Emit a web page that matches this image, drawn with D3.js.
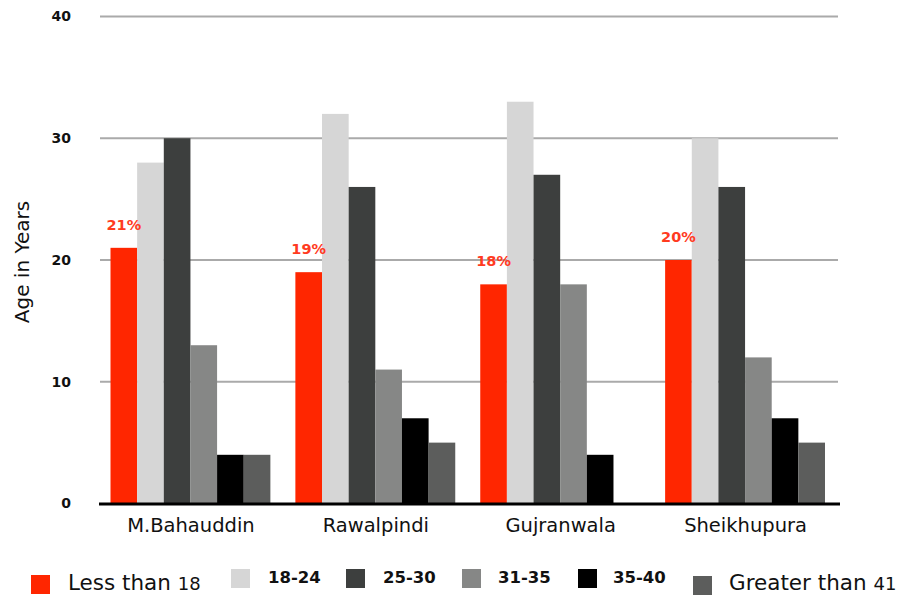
<!DOCTYPE html>
<html>
<head>
<meta charset="utf-8">
<script src="https://cdn.jsdelivr.net/npm/d3@7/dist/d3.min.js"></script>
<style>
  html, body { margin: 0; padding: 0; background: #fff; }
  svg { display: block; }
</style>
</head>
<body>
<svg id="chart" width="903" height="596"></svg>
<script>
const categories = ["M.Bahauddin", "Rawalpindi", "Gujranwala", "Sheikhupura"];
const seriesNames = ["Less than 18", "18-24", "25-30", "31-35", "35-40", "Greater than 41"];
const lessThan18 = [21, 19, 18, 20];
const age18to24 = [28, 32, 33, 30];
const age25to30 = [30, 26, 27, 26];
const age31to35 = [13, 11, 18, 12];
const age35to40 = [4, 7, 4, 7];
const greaterThan41 = [4, 5, 0, 5];
const redLabels = ["21%", "19%", "18%", "20%"];
const yTicks = [0, 10, 20, 30, 40];
const colors = ["#ff2600", "#d6d6d6", "#3d3f3e", "#868786", "#000000", "#5c5d5c"];

const seriesValues = [lessThan18, age18to24, age25to30, age31to35, age35to40, greaterThan41];

const svg = d3.select("#chart");
const plotLeft = 98.5, plotRight = 838, plotTop = 16.5, plotBottom = 503.5;

const x0 = d3.scaleBand().domain(categories).range([plotLeft, plotRight]).padding(0);
const x1 = d3.scaleBand().domain(seriesNames).range([12, x0.bandwidth() - 13]).padding(0);
const y = d3.scaleLinear().domain([0, 40]).range([plotBottom, plotTop]);

// gridlines
svg.append("g").selectAll("line").data(yTicks.filter(d => d > 0)).join("line")
  .attr("x1", 100).attr("x2", plotRight)
  .attr("y1", d => y(d)).attr("y2", d => y(d))
  .attr("stroke", "#aaaaaa").attr("stroke-width", 2);

// y tick labels
svg.append("g").selectAll("text").data(yTicks).join("text")
  .attr("x", 71).attr("y", d => y(d)).attr("dy", "0.35em")
  .attr("text-anchor", "end")
  .attr("font-family", "DejaVu Sans").attr("font-weight", "bold").attr("font-size", 14)
  .attr("fill", "#111").text(d => d);

// bars
const flat = [];
categories.forEach((c, i) => {
  seriesNames.forEach((s, j) => {
    flat.push({ cat: c, ser: s, value: seriesValues[j][i], color: colors[j] });
  });
});
svg.append("g").selectAll("rect").data(flat.filter(d => d.value > 0)).join("rect")
  .attr("x", d => x0(d.cat) + x1(d.ser))
  .attr("width", x1.bandwidth())
  .attr("y", d => y(d.value))
  .attr("height", d => y(0) - y(d.value))
  .attr("fill", d => d.color);

// baseline
svg.append("line").attr("x1", 99).attr("x2", 840)
  .attr("y1", y(0) + 0.5).attr("y2", y(0) + 0.5)
  .attr("stroke", "#000").attr("stroke-width", 3);

// red labels
svg.append("g").selectAll("text").data(categories).join("text")
  .attr("x", (d) => x0(d) + x1(seriesNames[0]) + x1.bandwidth() / 2)
  .attr("y", (d, i) => y(lessThan18[i]) - 18)
  .attr("text-anchor", "middle")
  .attr("font-family", "DejaVu Sans").attr("font-weight", "bold").attr("font-size", 14.5)
  .attr("fill", "#ff3b1f").text((d, i) => redLabels[i]);

// category labels
svg.append("g").selectAll("text").data(categories).join("text")
  .attr("x", d => x0(d) + x0.bandwidth() / 2)
  .attr("y", 532)
  .attr("text-anchor", "middle")
  .attr("font-family", "DejaVu Sans").attr("font-size", 19.5)
  .attr("fill", "#111").text(d => d);

// y title
svg.append("text")
  .attr("transform", "translate(29,262) rotate(-90)")
  .attr("text-anchor", "middle")
  .attr("font-family", "DejaVu Sans").attr("font-size", 20)
  .attr("fill", "#111").text("Age in Years");

// legend
const legendLayout = [
  { sx: 31, sy: 575, tx: 68, ty: 590, big: true },
  { sx: 231, sy: 569, tx: 268, ty: 583, big: false },
  { sx: 346, sy: 569, tx: 383, ty: 583, big: false },
  { sx: 462, sy: 569, tx: 498, ty: 583, big: false },
  { sx: 578, sy: 569, tx: 613, ty: 583, big: false },
  { sx: 693, sy: 576, tx: 729, ty: 590, big: true }
];
const lg = svg.append("g");
seriesNames.forEach((s, j) => {
  const L = legendLayout[j];
  lg.append("rect").attr("x", L.sx).attr("y", L.sy).attr("width", 19).attr("height", 19).attr("fill", colors[j]);
  const t = lg.append("text").attr("x", L.tx).attr("y", L.ty)
    .attr("font-family", "DejaVu Sans").attr("fill", "#111");
  if (L.big) {
    const m = s.match(/^(.*?)(\d+)$/);
    t.append("tspan").attr("font-size", 21.5).text(m[1]);
    t.append("tspan").attr("font-size", 18).text(m[2]);
  } else {
    t.attr("font-size", 16.5).attr("font-weight", "bold").text(s);
  }
});
</script>
</body>
</html>
